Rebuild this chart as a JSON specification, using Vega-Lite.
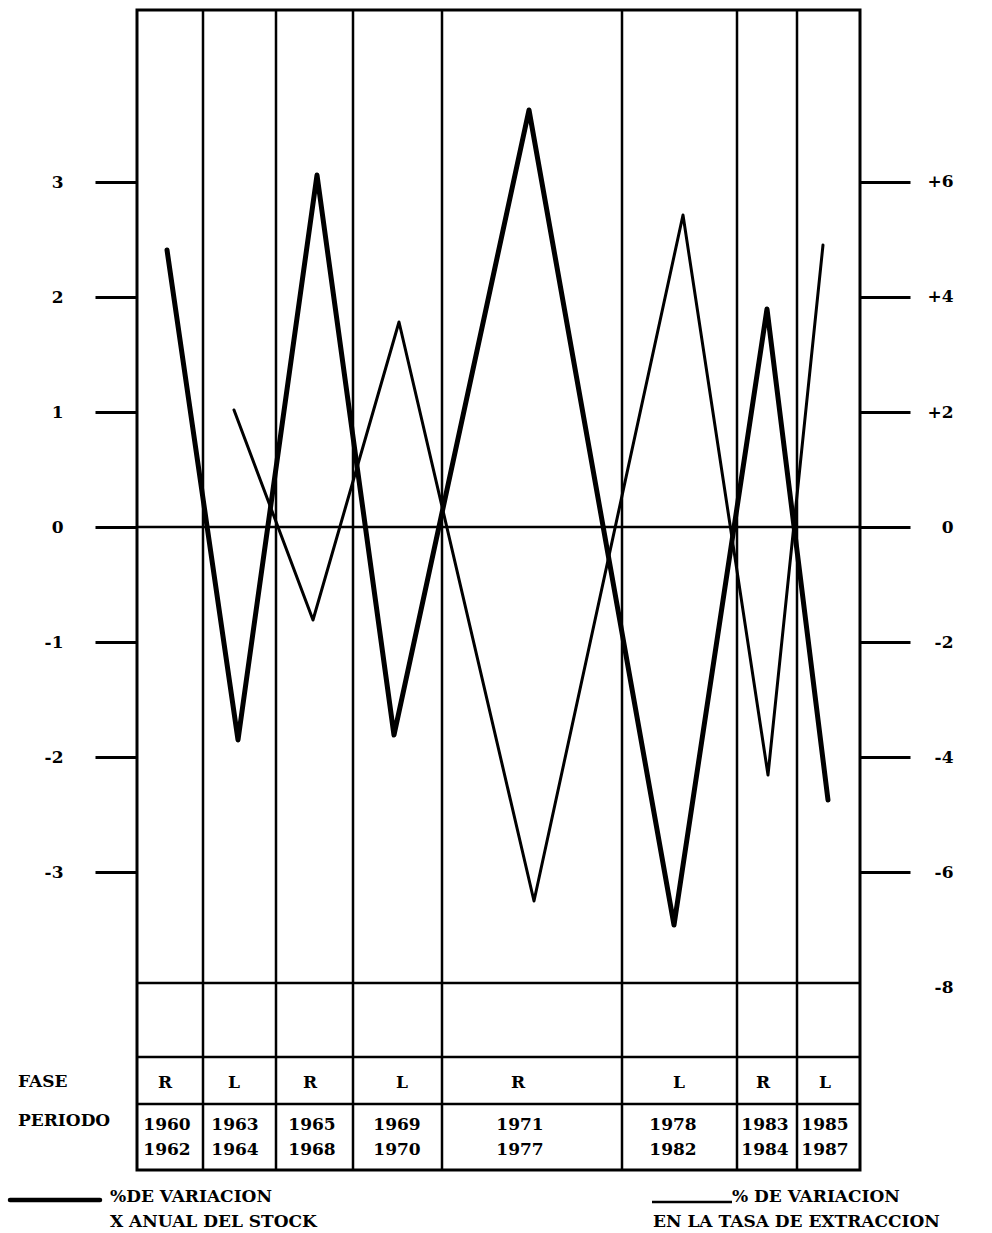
{
  "$schema": "https://vega.github.io/schema/vega-lite/v6.json",
  "width": 723,
  "height": 1160,
  "autosize": {"type": "none"},
  "padding": {"left": 137, "top": 10, "right": 132, "bottom": 63},
  "background": "white",
  "config": {
    "view": {"stroke": "black", "strokeWidth": 3},
    "text": {"font": "DejaVu Serif", "fontWeight": "bold", "fontSize": 17, "color": "black"}
  },
  "datasets": {
    "separators": [{"pos": 66}, {"pos": 139}, {"pos": 216}, {"pos": 305}, {"pos": 485}, {"pos": 600}, {"pos": 660}],
    "hlines": [{"v": 0}, {"v": -3.965}, {"v": -4.609}, {"v": -5.017}],
    "stock": [
      {"pos": 30, "v": 2.409},
      {"pos": 101, "v": -1.852},
      {"pos": 180, "v": 3.061},
      {"pos": 257, "v": -1.809},
      {"pos": 392, "v": 3.626},
      {"pos": 537, "v": -3.461},
      {"pos": 630, "v": 1.896},
      {"pos": 691, "v": -2.374}
    ],
    "extraccion": [
      {"pos": 97, "r": 2.035},
      {"pos": 176, "r": -1.617},
      {"pos": 262, "r": 3.565},
      {"pos": 397, "r": -6.504},
      {"pos": 546, "r": 5.426},
      {"pos": 631, "r": -4.313},
      {"pos": 686, "r": 4.904}
    ],
    "tabla": [
      {"fase_pos": 28, "year_pos": 30, "fase": "R", "desde": "1960", "hasta": "1962"},
      {"fase_pos": 97, "year_pos": 98, "fase": "L", "desde": "1963", "hasta": "1964"},
      {"fase_pos": 173, "year_pos": 175, "fase": "R", "desde": "1965", "hasta": "1968"},
      {"fase_pos": 265, "year_pos": 260, "fase": "L", "desde": "1969", "hasta": "1970"},
      {"fase_pos": 381, "year_pos": 383, "fase": "R", "desde": "1971", "hasta": "1977"},
      {"fase_pos": 542, "year_pos": 536, "fase": "L", "desde": "1978", "hasta": "1982"},
      {"fase_pos": 626, "year_pos": 628, "fase": "R", "desde": "1983", "hasta": "1984"},
      {"fase_pos": 688, "year_pos": 688, "fase": "L", "desde": "1985", "hasta": "1987"}
    ],
    "rowlabels": [
      {"pos": -119, "v": -4.826, "t": "FASE"},
      {"pos": -119, "v": -5.165, "t": "PERIODO"}
    ],
    "legendlines": [
      {"serie": "stock", "x1": -127, "x2": -37, "v": -5.852},
      {"serie": "extraccion", "x1": 515, "x2": 595, "v": -5.87}
    ],
    "legendtext": [
      {"pos": -27, "v": -5.826, "t": "%DE VARIACION"},
      {"pos": -27, "v": -6.043, "t": "X ANUAL DEL STOCK"},
      {"pos": 595, "v": -5.826, "t": "% DE VARIACION"},
      {"pos": 516, "v": -6.043, "t": "EN LA TASA DE EXTRACCION"}
    ]
  },
  "layer": [
    {
      "layer": [
        {
          "data": {"name": "hlines"},
          "mark": {"type": "rule", "color": "black", "strokeWidth": 2.5},
          "encoding": {
            "y": {
              "field": "v", "type": "quantitative",
              "scale": {"domain": [-5.5913, 4.4957], "nice": false, "zero": false},
              "axis": {
                "orient": "left", "values": [3, 2, 1, 0, -1, -2, -3],
                "labelExpr": "'' + datum.value",
                "title": null, "domain": false, "grid": false,
                "tickSize": 42, "tickWidth": 3, "tickColor": "black",
                "labelPadding": 32, "labelFont": "DejaVu Serif", "labelFontWeight": "bold",
                "labelFontSize": 17, "labelColor": "black"
              }
            }
          }
        },
        {
          "data": {"name": "separators"},
          "mark": {"type": "rule", "color": "black", "strokeWidth": 2.5},
          "encoding": {
            "x": {"field": "pos", "type": "quantitative", "scale": {"domain": [0, 723], "nice": false, "zero": false}, "axis": null}
          }
        },
        {
          "data": {"name": "stock"},
          "mark": {"type": "line", "color": "black", "strokeWidth": 5, "strokeJoin": "round", "strokeCap": "round"},
          "encoding": {
            "x": {"field": "pos", "type": "quantitative", "scale": {"domain": [0, 723], "nice": false, "zero": false}, "axis": null},
            "y": {"field": "v", "type": "quantitative", "scale": {"domain": [-5.5913, 4.4957], "nice": false, "zero": false}}
          }
        },
        {
          "data": {"name": "tabla"},
          "mark": {"type": "text", "align": "center"},
          "encoding": {
            "x": {"field": "fase_pos", "type": "quantitative", "scale": {"domain": [0, 723], "nice": false, "zero": false}, "axis": null},
            "y": {"datum": -4.835, "type": "quantitative"},
            "text": {"field": "fase"}
          }
        },
        {
          "data": {"name": "tabla"},
          "mark": {"type": "text", "align": "center"},
          "encoding": {
            "x": {"field": "year_pos", "type": "quantitative", "scale": {"domain": [0, 723], "nice": false, "zero": false}, "axis": null},
            "y": {"datum": -5.2, "type": "quantitative"},
            "text": {"field": "desde"}
          }
        },
        {
          "data": {"name": "tabla"},
          "mark": {"type": "text", "align": "center"},
          "encoding": {
            "x": {"field": "year_pos", "type": "quantitative", "scale": {"domain": [0, 723], "nice": false, "zero": false}, "axis": null},
            "y": {"datum": -5.417, "type": "quantitative"},
            "text": {"field": "hasta"}
          }
        },
        {
          "data": {"name": "rowlabels"},
          "mark": {"type": "text", "align": "left"},
          "encoding": {
            "x": {"field": "pos", "type": "quantitative", "scale": {"domain": [0, 723], "nice": false, "zero": false}, "axis": null},
            "y": {"field": "v", "type": "quantitative"},
            "text": {"field": "t"}
          }
        },
        {
          "data": {"name": "legendlines"},
          "transform": [{"filter": "datum.serie == 'stock'"}],
          "mark": {"type": "rule", "color": "black", "strokeWidth": 4.5, "strokeCap": "round"},
          "encoding": {
            "x": {"field": "x1", "type": "quantitative", "scale": {"domain": [0, 723], "nice": false, "zero": false}, "axis": null},
            "x2": {"field": "x2"},
            "y": {"field": "v", "type": "quantitative"}
          }
        },
        {
          "data": {"name": "legendlines"},
          "transform": [{"filter": "datum.serie == 'extraccion'"}],
          "mark": {"type": "rule", "color": "black", "strokeWidth": 2.5},
          "encoding": {
            "x": {"field": "x1", "type": "quantitative", "scale": {"domain": [0, 723], "nice": false, "zero": false}, "axis": null},
            "x2": {"field": "x2"},
            "y": {"field": "v", "type": "quantitative"}
          }
        },
        {
          "data": {"name": "legendtext"},
          "mark": {"type": "text", "align": "left"},
          "encoding": {
            "x": {"field": "pos", "type": "quantitative", "scale": {"domain": [0, 723], "nice": false, "zero": false}, "axis": null},
            "y": {"field": "v", "type": "quantitative"},
            "text": {"field": "t"}
          }
        }
      ]
    },
    {
      "data": {"name": "extraccion"},
      "mark": {"type": "line", "color": "black", "strokeWidth": 3, "strokeJoin": "round", "strokeCap": "round"},
      "encoding": {
        "x": {"field": "pos", "type": "quantitative", "scale": {"domain": [0, 723], "nice": false, "zero": false}, "axis": null},
        "y": {
          "field": "r", "type": "quantitative",
          "scale": {"domain": [-11.1826, 8.9913], "nice": false, "zero": false},
          "axis": {
            "orient": "right", "values": [6, 4, 2, 0, -2, -4, -6, -8],
            "labelExpr": "datum.value > 0 ? '+' + datum.value : '' + datum.value",
            "title": null, "domain": false, "grid": false,
            "tickSize": 50, "tickWidth": 3, "tickColor": "black",
            "tickOpacity": {"condition": {"test": "datum.value == -8", "value": 0}, "value": 1},
            "labelAlign": "right", "labelPadding": 43,
            "labelFont": "DejaVu Serif", "labelFontWeight": "bold",
            "labelFontSize": 17, "labelColor": "black"
          }
        }
      }
    }
  ],
  "resolve": {"scale": {"y": "independent"}}
}
